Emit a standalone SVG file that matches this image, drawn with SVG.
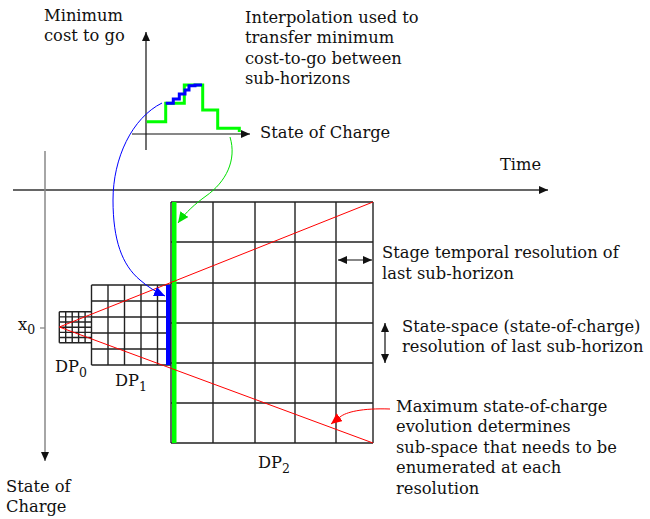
<svg xmlns="http://www.w3.org/2000/svg" width="650" height="519" viewBox="0 0 650 519">
<defs>
<style>
text{font-family:"DejaVu Serif","Liberation Serif",serif;font-size:16.3px;fill:#111}
.sub{font-size:12.5px}
.grid{fill:none;stroke:#222;stroke-width:1.4}
.red{fill:none;stroke:#ff0000;stroke-width:1}
.ax{fill:none;stroke:#111;stroke-width:1.2}
</style>
<marker id="ak" markerWidth="10" markerHeight="8" refX="9" refY="4" orient="auto" markerUnits="userSpaceOnUse"><path d="M0,0 L9,4 L0,8 Z" fill="#111"/></marker>
<marker id="akr" markerWidth="10" markerHeight="8" refX="9" refY="4" orient="auto-start-reverse" markerUnits="userSpaceOnUse"><path d="M0,0 L9,4 L0,8 Z" fill="#111"/></marker>
<marker id="ab" markerWidth="12" markerHeight="10" refX="11" refY="5" orient="auto" markerUnits="userSpaceOnUse"><path d="M0,0 L11,5 L0,10 Z" fill="#0000ff"/></marker>
<marker id="ag" markerWidth="12" markerHeight="10" refX="11" refY="5" orient="auto" markerUnits="userSpaceOnUse"><path d="M0,0 L11,5 L0,10 Z" fill="#00e000"/></marker>
<marker id="ar" markerWidth="12" markerHeight="10" refX="11" refY="5" orient="auto" markerUnits="userSpaceOnUse"><path d="M0,0 L11,5 L0,10 Z" fill="#ff0000"/></marker>
</defs>

<g id="main-axes">
<line x1="13" y1="190" x2="548" y2="190" stroke="#333" stroke-width="1.3" marker-end="url(#ak)"/>
<line x1="45" y1="151" x2="45" y2="461" stroke="#888" stroke-width="1.5" marker-end="url(#ak)"/>
<line x1="40" y1="328" x2="45" y2="328" stroke="#888" stroke-width="1.3"/>
<text x="500" y="170">Time</text>
<text x="6" y="492">State of</text>
<text x="6" y="512">Charge</text>
<text x="18" y="330">x<tspan class="sub" dy="4">0</tspan></text>
</g>

<g id="inset">
<line class="ax" x1="146" y1="150" x2="146" y2="32" marker-end="url(#ak)"/>
<line class="ax" x1="132" y1="134" x2="250" y2="134" marker-end="url(#ak)"/>
<polyline fill="none" stroke="#00ff00" stroke-width="3" points="146.7,121.7 165.7,121.7 165.7,103.3 184.3,103.3 184.3,85 202.7,85 202.7,110 217.7,110 217.7,128.3 239.3,128.3 239.3,132"/>
<polyline fill="none" stroke="#0000ff" stroke-width="3" points="165.7,103.3 173.3,103.3 173.3,99 179.3,99 179.3,94 185,94 185,90 189,90 189,85.7 195,85.7 195,85 202,85"/>
<text x="44" y="21">Minimum</text>
<text x="44" y="41">cost to go</text>
<text x="245" y="23">Interpolation used to</text>
<text x="245" y="43">transfer minimum</text>
<text x="245" y="64">cost-to-go between</text>
<text x="245" y="84">sub-horizons</text>
<text x="260" y="138">State of Charge</text>
</g>

<g id="dp0">
<path class="grid" stroke-width="1.2" d="M59.3,311.7 H91.5 M59.3,316.9 H91.5 M59.3,322.0 H91.5 M59.3,327.2 H91.5 M59.3,332.4 H91.5 M59.3,337.5 H91.5 M59.3,342.7 H91.5 M59.3,311.7 V342.7 M65.7,311.7 V342.7 M72.2,311.7 V342.7 M78.6,311.7 V342.7 M85.1,311.7 V342.7"/>
<text x="55" y="372">DP<tspan class="sub" dy="5">0</tspan></text>
</g>

<g id="dp1">
<path class="grid" d="M91.5,285 H171 M91.5,301 H171 M91.5,317 H171 M91.5,333 H171 M91.5,349 H171 M91.5,365 H171 M91.5,285 V365 M108,285 V365 M124.5,285 V365 M141,285 V365 M157.5,285 V365"/>
<rect x="166" y="285" width="5" height="80" fill="#0000ff"/>
<text x="115" y="386">DP<tspan class="sub" dy="5">1</tspan></text>
</g>

<g id="dp2">
<path class="grid" d="M171,202 H373 M171,242 H373 M171,283 H373 M171,323 H373 M171,363 H373 M171,403 H373 M171,443 H373 M171,202 V443 M213,202 V443 M255,202 V443 M295,202 V443 M336,202 V443 M373,202 V443"/>
<rect x="172" y="202" width="4.5" height="241" fill="#00ff00"/>
<text x="258" y="468">DP<tspan class="sub" dy="5">2</tspan></text>
</g>

<g id="labels">
<text x="382" y="258">Stage temporal resolution of</text>
<text x="382" y="279">last sub-horizon</text>
<text x="402" y="332">State-space (state-of-charge)</text>
<text x="402" y="352">resolution of last sub-horizon</text>
<text x="396" y="412">Maximum state-of-charge</text>
<text x="396" y="432">evolution determines</text>
<text x="396" y="453">sub-space that needs to be</text>
<text x="396" y="473">enumerated at each</text>
<text x="396" y="494">resolution</text>
</g>

<g id="connectors">
<line class="red" x1="59.3" y1="327" x2="373" y2="202"/>
<line class="red" x1="59.3" y1="327" x2="373" y2="443"/>
<path fill="none" stroke="#0000ff" stroke-width="1" d="M162,103 C132,118 113,158 113,200 C113,240 122,265 140,280 C148,287 156,292 165,296" marker-end="url(#ab)"/>
<path fill="none" stroke="#00e000" stroke-width="1" d="M230,137 C237,160 226,182 206,196 C195,204 186,212 178,223" marker-end="url(#ag)"/>
<path class="red" d="M390,409 C362,408 346,412 340,417 L331,424" marker-end="url(#ar)"/>
<line x1="338" y1="260" x2="372" y2="260" stroke="#111" stroke-width="1.2" marker-start="url(#akr)" marker-end="url(#ak)"/>
<line x1="385" y1="323" x2="385" y2="363" stroke="#111" stroke-width="1.2" marker-start="url(#akr)" marker-end="url(#ak)"/>
</g>
</svg>
